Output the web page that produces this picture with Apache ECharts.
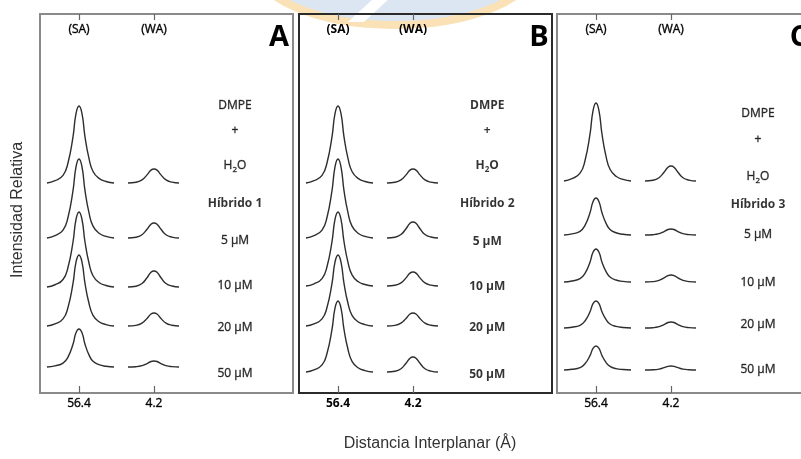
<!DOCTYPE html>
<html>
<head>
<meta charset="utf-8">
<script src="https://cdn.jsdelivr.net/npm/echarts@6/dist/echarts.min.js"></script>
<style>
  html, body { margin: 0; padding: 0; background: #fff; }
</style>
</head>
<body>
<div id="myChart" style="width: 801px; height: 459px;"></div>
<script>
  // posiciones de los picos en el eje x (SA = 0, WA = 1)
  const tickPos = [0, 1]
  const bottomTickLabels = ['56.4', '4.2']
  const topTickLabels = ['(SA)', '(WA)']
  const panelNames = ['A', 'B', 'C']
  const hybridNames = ['Híbrido 1', 'Híbrido 2', 'Híbrido 3']
  const concLabels = ['5 μM', '10 μM', '20 μM', '50 μM']

  const saOffset = [-0.427, -0.32, -0.213, -0.147, -0.08, -0.04, 0, 0.04, 0.08, 0.133, 0.187, 0.267, 0.36, 0.467]
  const saShape = [0, 0.03, 0.10, 0.26, 0.60, 0.90, 1, 0.90, 0.60, 0.32, 0.15, 0.06, 0.02, 0]
  const waOffset = [-0.347, -0.24, -0.16, -0.093, -0.04, 0, 0.04, 0.093, 0.16, 0.24, 0.333]
  const waShape = [0, 0.05, 0.22, 0.58, 0.92, 1, 0.92, 0.58, 0.22, 0.06, 0]

  // linea base de cada espectro (H2O, 5, 10, 20, 50 uM) e intensidad de los picos
  const baseA = [210, 155, 106, 67, 26]
  const saA = [77, 79, 75, 71, 38]
  const waA = [14, 15, 16, 13, 6]
  const baseB = [210, 155, 107, 67, 21]
  const saB = [77, 79, 74, 71, 71]
  const waB = [14, 16, 14, 13, 15]
  const baseC = [212, 158, 111, 65, 23]
  const saC = [78, 37, 33, 27, 24]
  const waC = [15, 6, 7, 6, 4]

  // altura de las etiquetas de la derecha
  const labelYA = [287, 262, 227, 189, 152, 107, 65, 19]
  const labelYB = [287, 262, 227, 189, 151, 106, 65, 18]
  const labelYC = [279, 253, 216, 188, 158, 110, 68, 23]
  const labelX = [2.08, 1.99, 2.16]

  const panels = [
    {base: baseA, sa: saA, wa: waA, labelY: labelYA, bold: false},
    {base: baseB, sa: saB, wa: waB, labelY: labelYB, bold: true},
    {base: baseC, sa: saC, wa: waC, labelY: labelYC, bold: false}
  ]

  const font = '"Open Sans", Lato, sans-serif'
  const lefts = [40, 299, 557]
  const widths = [253, 253, 275]

  // el texto normal se oscurece un poco con un borde fino
  function ink(bold) {
    return bold ? {textBorderWidth: 0} : {textBorderColor: '#444', textBorderWidth: 0.45}
  }

  let grids = []
  let xAxes = []
  let yAxes = []
  let series = []

  panels.forEach(function (p, i) {
    grids.push({
      left: lefts[i], top: 14, width: widths[i], height: 379,
      outerBoundsMode: 'none',
      show: true,
      borderColor: i === 1 ? '#2b2b2b' : '#8a8a8a',
      borderWidth: 2
    })
    const weight = p.bold ? 'bold' : 'normal'
    const xMax = -0.52 + widths[i] / 75
    // eje inferior
    xAxes.push({
      type: 'value', gridIndex: i, position: 'bottom',
      min: -0.52, max: xMax,
      axisLine: {show: false},
      splitLine: {show: false},
      axisTick: {show: true, inside: true, length: 7, customValues: tickPos, lineStyle: {color: '#666', width: 1.2}},
      axisLabel: Object.assign({
        customValues: tickPos, margin: 5, fontSize: 12, fontFamily: font, color: '#000', fontWeight: weight,
        formatter: function (v) { return bottomTickLabels[tickPos.indexOf(v)] }
      }, ink(p.bold))
    })
    // eje superior
    xAxes.push({
      type: 'value', gridIndex: i, position: 'top',
      min: -0.52, max: xMax,
      axisLine: {show: false},
      splitLine: {show: false},
      axisTick: {show: true, inside: true, length: 6, customValues: tickPos, lineStyle: {color: '#666', width: 1.2}},
      axisLabel: Object.assign({
        inside: true, customValues: tickPos, margin: 10, fontSize: 12, fontFamily: font, color: '#000', fontWeight: weight,
        formatter: function (v) { return topTickLabels[tickPos.indexOf(v)] }
      }, ink(p.bold))
    })
    yAxes.push({type: 'value', gridIndex: i, min: 0, max: 379, show: false})

    for (let r = 0; r < p.base.length; r++) {
      series.push({
        type: 'line', xAxisIndex: i * 2, yAxisIndex: i,
        showSymbol: false, smooth: 0.5, silent: true,
        lineStyle: {color: '#2e2e2e', width: 1.4},
        data: saOffset.map(function (dx, k) { return [tickPos[0] + dx, p.base[r] + p.sa[r] * saShape[k]] })
      })
      series.push({
        type: 'line', xAxisIndex: i * 2, yAxisIndex: i,
        showSymbol: false, smooth: 0.5, silent: true,
        lineStyle: {color: '#2e2e2e', width: 1.4},
        data: waOffset.map(function (dx, k) { return [tickPos[1] + dx, p.base[r] + p.wa[r] * waShape[k]] })
      })
    }

    // etiquetas de cada espectro
    const texts = ['DMPE', '+', 'H2O', hybridNames[i]].concat(concLabels)
    series.push({
      type: 'scatter', xAxisIndex: i * 2, yAxisIndex: i,
      symbolSize: 0, silent: true,
      itemStyle: {color: 'transparent'},
      label: {
        show: true, position: 'inside', fontFamily: font, fontSize: 12, color: '#000',
        formatter: function (prm) {
          if (prm.value[2] === 'H2O') return '{n|H}{s|2}{n|O}'
          return prm.value[2]
        },
        rich: {
          n: Object.assign({fontSize: 12, fontFamily: font, fontWeight: weight, color: '#000', lineHeight: 14}, ink(p.bold)),
          s: Object.assign({fontSize: 8, fontFamily: font, fontWeight: weight, color: '#000', padding: [8, 0, 0, 0]}, ink(p.bold))
        }
      },
      data: texts.map(function (t, k) {
        const bold = p.bold || k === 3
        return {
          value: [labelX[i], p.labelY[k], t],
          label: Object.assign({fontWeight: bold ? 'bold' : 'normal', color: '#000'}, ink(bold))
        }
      })
    })
  })

  let chart = echarts.init(document.getElementById('myChart'))
  chart.setOption({
    backgroundColor: '#fff',
    animation: false,
    grid: grids,
    xAxis: xAxes,
    yAxis: yAxes,
    series: series,
    graphic: [
      // marca de agua
      {type: 'ellipse', z: -10, silent: true, shape: {cx: 395, cy: -35, rx: 140, ry: 60},
        style: {fill: '#dce5f2', stroke: '#fae1b6', lineWidth: 8}},
      {type: 'polygon', z: -9, silent: true, shape: {points: [[348, 22], [364, 22], [390, -2], [374, -2]]},
        style: {fill: '#ffffff'}},
      // letras de los paneles
      {type: 'text', x: 279, y: 38, style: {text: panelNames[0], font: 'bold 29px ' + font, fill: '#000', align: 'center', verticalAlign: 'middle'}},
      {type: 'text', x: 539, y: 38, style: {text: panelNames[1], font: 'bold 29px ' + font, fill: '#000', align: 'center', verticalAlign: 'middle'}},
      {type: 'text', x: 799, y: 38, style: {text: panelNames[2], font: 'bold 29px ' + font, fill: '#000', align: 'center', verticalAlign: 'middle'}},
      // titulos de los ejes
      {type: 'text', x: 18, y: 210, rotation: Math.PI / 2,
        style: {text: 'Intensidad Relativa', font: '16px "Liberation Sans", Arial, sans-serif', fill: '#333', align: 'center', verticalAlign: 'middle'}},
      {type: 'text', x: 430, y: 444,
        style: {text: 'Distancia Interplanar (Å)', font: '16px "Liberation Sans", Arial, sans-serif', fill: '#333', align: 'center', verticalAlign: 'middle'}}
    ]
  })
</script>
</body>
</html>
